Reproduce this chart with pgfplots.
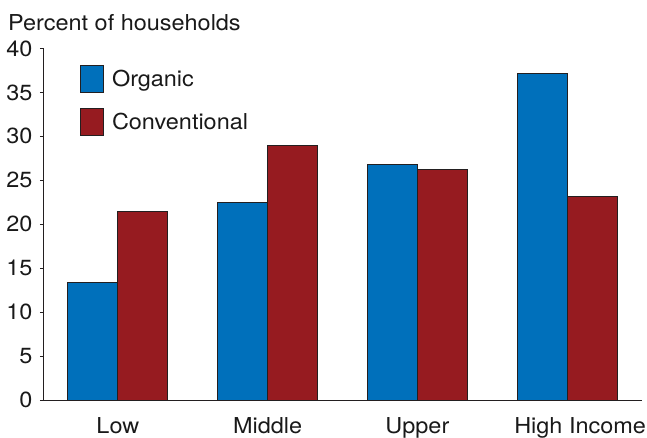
\documentclass[border=0pt]{standalone}
\usepackage{pgfplots}
\pgfplotsset{compat=1.18}
\usepackage{fontspec}
\setmainfont[FakeStretch=1.07]{TeX Gyre Heros}
\definecolor{orgblue}{RGB}{0,112,187}
\definecolor{convred}{RGB}{150,27,32}
\definecolor{edge}{RGB}{35,31,32}

\newcommand{\chartfont}{\fontsize{22}{26}\selectfont}
% square legend swatch, centred on the cap height of the entry text
\pgfplotsset{sqlegend/.style={legend image code/.code={%
  \draw[##1] (0bp,-5.7bp) rectangle (23bp,21.3bp);}}}

\begin{document}
\chartfont
\begin{tikzpicture}
\useasboundingbox (-43bp,-38bp) rectangle (604bp,400bp);
\begin{axis}[
  at={(0,0)}, anchor=south west,
  scale only axis, width=599bp, height=351.5bp,
  xmin=-0.5, xmax=3.5, ymin=0, ymax=40,
  axis x line*=bottom, axis y line*=left,
  axis line style={line width=0.8bp, draw=edge},
  xtick={0,1,2,3},
  xticklabels={Low,Middle,Upper,{\hspace*{26bp}High Income}},
  ytick={0,5,...,40},
  tick align=outside,
  major tick length=3bp,
  x tick style={draw=none},
  y tick style={line width=0.8bp, draw=edge},
  tick label style={font=\chartfont, text=black!90},
  x tick label style={yshift=-7bp},
  /pgf/number format/assume math mode=true,
  ybar, bar width=0.334,
  clip=false,
  legend style={at={(rel axis cs:0.0618,0.9531)}, anchor=north west,
    draw=none, fill=none, inner sep=0pt, row sep=15bp,
    font=\chartfont, text=black!90,
    nodes={inner sep=0pt},
    cells={anchor=base west},
    /tikz/every odd column/.append style={column sep=8bp}},
]
\addplot[fill=orgblue, draw=edge, line width=0.8bp, bar shift=-0.167, sqlegend]
  coordinates {(0,13.4) (1,22.5) (2,26.8) (3,37.2)};
\addlegendentry{Organic}
\addplot[fill=convred, draw=edge, line width=0.8bp, bar shift=0.167, sqlegend]
  coordinates {(0,21.5) (1,29.0) (2,26.2) (3,23.2)};
\addlegendentry{Conventional}
\node[anchor=base west, font=\chartfont, text=black!90, inner sep=0pt]
  at (rel axis cs:-0.0584,1.0498) {Percent of households};
\end{axis}
\end{tikzpicture}
\end{document}
